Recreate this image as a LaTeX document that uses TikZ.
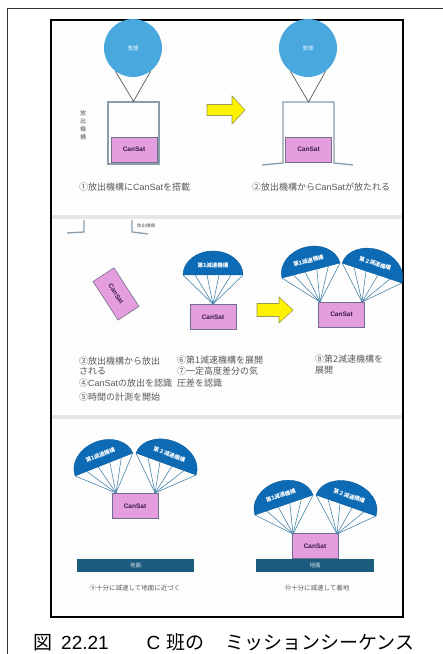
\documentclass[tikz,border=0pt]{standalone}
\usepackage{fontspec}
\setmainfont{Noto Sans CJK JP}
\newfontfamily\latinfont{Liberation Sans}
\usetikzlibrary{calc}

\definecolor{balloonblue}{HTML}{49A9DE}
\definecolor{domeblue}{HTML}{0D6BB5}
\definecolor{shroudcol}{HTML}{3F7FA6}
\definecolor{canpink}{HTML}{E49EDD}
\definecolor{canedge}{HTML}{70708E}
\definecolor{cantext}{HTML}{3B1C47}
\definecolor{mechcol}{HTML}{8C9DAA}
\definecolor{groundcol}{HTML}{1B5C7E}
\definecolor{arrowedge}{HTML}{9A9A50}
\definecolor{notegray}{HTML}{5A5A5A}
\definecolor{bandgray}{HTML}{E6E6E6}
\definecolor{panelbg}{HTML}{FDFDFD}

% Latin run inside Japanese notes
\newcommand\lat[1]{{\latinfont #1}}

\tikzset{
  balloon/.style={circle, fill=balloonblue, minimum size=58pt, inner sep=0pt,
    text=white, font=\fontsize{5.5}{6}\selectfont},
  mech/.style={draw=mechcol, line width=1.3pt, rectangle, inner sep=0pt},
  mechline/.style={draw=mechcol, line width=1.3pt},
  tether/.style={draw=notegray, line width=0.7pt},
  cansat/.style={rectangle, fill=canpink, draw=canedge, line width=0.6pt,
    minimum width=46pt, minimum height=25pt, inner sep=0pt,
    text=cantext, font=\latinfont\fontsize{6.5}{7}\selectfont\bfseries},
  yarrow/.style={fill=yellow, draw=arrowedge, line width=0.6pt},
  domefill/.style={fill=domeblue, draw=domeblue!85!black, line width=0.4pt},
  domelabel/.style={text=white, inner sep=0pt, font=\fontsize{5.5}{6}\selectfont\bfseries},
  shroud/.style={draw=shroudcol, line width=0.55pt},
  ground/.style={rectangle, fill=groundcol, minimum height=13pt, inner sep=0pt,
    text=white!85!groundcol, font=\fontsize{5.5}{6}\selectfont},
  note/.style={text=notegray, inner sep=0pt, anchor=base west, font=\fontsize{9}{11}\selectfont},
  smallnote/.style={text=notegray, inner sep=0pt, anchor=base, font=\fontsize{6.5}{7}\selectfont},
}

% parachute: #1 label node name, #2 chord centre, #3 tilt, #4 half chord,
% #5 canopy text, #6 point where the shroud lines meet
\newcommand\chute[6]{%
  \begin{scope}[shift={#2}, rotate=#3]
    \path[domefill] (-#4,0) arc[start angle=180, end angle=0, x radius=#4, y radius=24] -- cycle;
    \foreach \i in {0,...,5}
      \draw[shroud] ({-#4+\i*#4*0.4},0) -- (#6);
    \node[domelabel, rotate=#3] (#1) at (0,10) {#5};
  \end{scope}}

\begin{document}
\begin{tikzpicture}[x=1pt, y=1pt]
\useasboundingbox (0,0) rectangle (443,654);
\fill[white] (0,0) rectangle (443,654);

% table cell rules
\draw[black!80, line width=0.8pt] (7,0) -- (7,646) -- (443,646);

% figure frame and panel separators
\filldraw[fill=panelbg, draw=black, line width=2.4pt] (51,37) rectangle (403,634);
\fill[bandgray] (52.2,435) rectangle (401.8,439);
\fill[bandgray] (52.2,235) rectangle (401.8,239);

% ---------- step 1 ----------
\node[balloon] (bal1) at (133,606) {気球};
\node[mech, minimum width=51pt, minimum height=62pt] (mech1) at (133.5,521) {};
\draw[tether] (bal1.233) -- (mech1.north) -- (bal1.307);
\node[cansat] (can1) at (134,504.5) {CanSat};
\node[text=notegray, inner sep=0pt, align=center, font=\fontsize{6}{8}\selectfont]
  (mechlabel1) at (83,529) {放\\出\\機\\構};
\node[note] (cap1) at (79,463.6) {①放出機構に\lat{CanSat}を搭載};

\filldraw[yarrow] (207,538.5) -- (232,538.5) -- (232,530) -- (245,544)
  -- (232,558) -- (232,549.5) -- (207,549.5) -- cycle;

% ---------- step 2 ----------
\node[balloon] (bal2) at (308,606) {気球};
\coordinate (m2top) at (308.5,552);
\draw[mechline] (262,489) -- (283,491) -- (283,552) -- (334,552) -- (334,491) -- (353,489);
\draw[tether] (bal2.233) -- (m2top) -- (bal2.307);
\node[cansat] (can2) at (308.5,504.5) {CanSat};
\node[note] (cap2) at (252,463.6) {②放出機構から\lat{CanSat}が放たれる};

% ---------- steps 3 - 8 ----------
\draw[mechline] (67,421) -- (84,422) -- (84,434);
\draw[mechline] (148,420) -- (132,422) -- (132,434);
\node[text=notegray, inner sep=0pt, anchor=west, font=\fontsize{4.5}{5}\selectfont]
  (mechlabel3) at (137,428) {放出機構};

\node[cansat, rotate=-57] (can3) at (116,360) {CanSat};

\node[cansat] (can4) at (213,337) {CanSat};
\chute{dome4}{(213,379)}{0}{30}{第1減速機構}{can4.north}

\filldraw[yarrow] (257,337.5) -- (279,337.5) -- (279,331) -- (293,344)
  -- (279,357) -- (279,350.5) -- (257,350.5) -- cycle;

\node[cansat] (can5) at (341.5,339.5) {CanSat};
\coordinate (meet5a) at (320,352);
\coordinate (meet5b) at (362,352);
\chute{dome5a}{(311,383.5)}{14.5}{30}{第1減速機構}{meet5a}
\chute{dome5b}{(372,381)}{-18.4}{31.5}{第２減速機構}{meet5b}

\node[note] (n3a) at (79,289.6) {③放出機構から放出};
\node[note] (n3b) at (79,279.1) {される};
\node[note] (n4) at (79,267.3) {④\lat{CanSat}の放出を認識};
\node[note] (n5) at (79,253.8) {⑤時間の計測を開始};

\node[note] (n6) at (177,290.6) {⑥第1減速機構を展開};
\node[note] (n7a) at (177,279.1) {⑦一定高度差分の気};
\node[note] (n7b) at (177,267.6) {圧差を認識};

\node[note] (n8a) at (315,291.6) {⑧第2減速機構を};
\node[note] (n8b) at (315,280.1) {展開};

% ---------- step 9 ----------
\node[cansat] (can9) at (135,148) {CanSat};
\coordinate (meet9a) at (116,161);
\coordinate (meet9b) at (155,161);
\chute{dome9a}{(104,189.5)}{21.6}{31}{第1減速機構}{meet9a}
\chute{dome9b}{(166,190)}{-20.1}{32}{第２減速機構}{meet9b}
\node[ground, minimum width=117pt] (ground9) at (135.5,88.5) {地面};
\node[smallnote] (n9) at (135,63.5) {⑨十分に減速して地面に近づく};

% ---------- step 10 ----------
\node[ground, minimum width=118pt] (ground10) at (315,88.5) {地面};
\node[cansat, anchor=south] (can10) at (315,95) {CanSat};
\coordinate (meet10a) at (293,120);
\coordinate (meet10b) at (337,120);
\chute{dome10a}{(284,149)}{19}{30.7}{第1減速機構}{meet10a}
\chute{dome10b}{(346,148.5)}{-19.3}{31.8}{第２減速機構}{meet10b}
\node[smallnote] (n10) at (317,63.5) {⑩十分に減速して着地};

% ---------- caption ----------
\node[inner sep=0pt, anchor=base west, font=\fontsize{19}{22}\selectfont]
  (figcap) at (33,4.6)
  {図\hspace{9pt}\lat{22.21}\hspace{38pt}\lat{C}\hspace{6pt}班の\hspace{21pt}ミッションシーケンス};
\end{tikzpicture}
\end{document}
